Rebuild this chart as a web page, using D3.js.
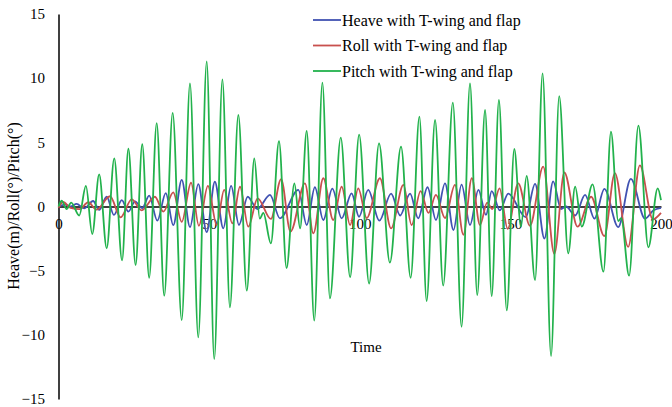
<!DOCTYPE html>
<html>
<head>
<meta charset="utf-8">
<script src="https://cdn.jsdelivr.net/npm/d3@7"></script>
<style>
  body { margin: 0; background: #fff; }
  text { font-family: "Liberation Serif", "Times New Roman", serif; fill: #000; }
</style>
</head>
<body>
<div id="chart"></div>
<script>
  // values: turning points (time, value) of each record
  var heaveTime = [0, 2.2, 4, 6, 8.5, 11.5, 13.5, 16.0, 18.4, 21.0, 23.2, 25.4, 27.8, 30.1, 32.8, 35.6, 38.1, 40.9, 43.65, 46.4,
    49.2, 51.9, 54.7, 57.3, 59.9, 62.8, 66.0, 70.2, 73.5, 79.6, 82.4, 85.1, 87.9, 90.9, 94.0, 97.3,
    99.75, 102.8, 106.5, 110.4, 113.4, 116.7, 119.4, 122.5, 125.3, 128.3, 131.1, 133.8, 136.6, 139.4, 141.9, 143.8, 146.5,
    149.3, 155.1, 158.2, 161.3, 164.2, 166.8, 168.5, 171.5, 174.8, 177.9, 181.2, 185.8, 190.0, 194.7, 197.5, 200];
  var heave = [0, 0.15, 0.0, 0.2, -0.15, 0.43, -0.27, 0.76, -0.66, 0.5, -0.4, 0.4, -0.13, 0.85, -1.1, 1.05, -1.45, 2.07, -1.6, 1.75,
    -2.0, 1.93, -1.7, 1.6, -1.44, 0.76, -0.2, 0.9, -0.92, 1.29, -1.44, 1.5, -1.05, 1.4, -0.92, 1.03,
    -0.8, 1.29, -1.1, 1.0, -0.7, 1.0, -0.92, 1.5, -1.05, 1.8, -1.83, 1.7, -1.44, 1.3, -0.66, 1.2, -0.3,
    1.0, -0.83, 1.77, -2.5, 1.96, -0.2, 0.0, -0.7, 0.9, -0.95, 1.38, -1.6, 2.15, -0.95, -0.3, -0.1];

  var rollTime = [0, 1.5, 4, 7, 9.9, 12.6, 17.1, 20.6, 24.3, 27.6, 32.0, 34.8, 38.1, 40.9, 44.0, 46.6,
    49.6, 52.5, 55.0, 57.7, 60.25, 63.0, 66.1, 70.5, 73.9, 77.0, 81.8, 84.6, 87.9, 91.2, 94.0, 96.8,
    99.5, 102.3, 106.7, 110.4, 114.5, 117.2, 120.2, 122.8, 125.3, 128.3, 131.6, 134.4, 137.2, 139.9, 142.3, 144.0, 146.4,
    149.1, 152.6, 156.5, 160.9, 164.6, 167.9, 172.3, 176.8, 181.2, 184.7, 189.1, 193.0, 197.3, 200];
  var roll = [-0.1, 0.35, -0.1, -0.2, 0.33, -0.25, 0.8, -0.85, 0.55, -0.3, 0.76, -0.4, 1.1, -1.2, 1.85, -1.5,
    1.6, -1.44, 1.29, -1.31, 1.54, -1.57, 0.64, -0.97, 2.14, -1.96, 1.8, -2.09, 2.2, -1.05, 1.54, -1.44,
    1.42, -0.9, 2.2, -1.7, 1.68, -1.44, 1.2, -0.5, 0.9, -0.9, 1.68, -2.2, 2.2, -1.44, 0.3, -0.2, 1.42,
    -1.75, 1.8, -1.5, 3.1, -3.7, 2.65, -1.57, 0.76, -2.3, 2.6, -3.15, 3.2, -1.0, -0.5];

  var pitchTime = [0, 1.05, 2.7, 4.2, 6.9, 9.1, 11.2, 13.5, 16.0, 18.5, 21.1, 23.2, 25.6, 27.8, 30.1, 32.6, 35.1, 37.9, 40.9, 43.65, 46.4,
    49.2, 51.7, 54.4, 56.9, 59.7, 62.5, 65.0, 66.8, 68.0, 70.5, 73.2, 75.7, 78.3, 80.2, 82.4, 84.9, 87.6, 90.1, 93.7, 96.8,
    99.8, 103.1, 106.4, 110.0, 113.7, 116.9, 119.8, 122.2, 125.0, 127.7, 130.9, 133.8, 136.6, 139.0, 141.6, 143.8, 146.2, 148.8,
    151.3, 153.5, 155.4, 158.2, 160.7, 163.5, 166.2, 169.2, 171.5, 173.7, 177.3, 180.9, 183.4, 185.8, 186.8, 189.4, 192.5, 195.8, 198.9, 200];
  var pitch = [0, 0.45, -0.2, 0.3, -0.7, 1.6, -2.15, 2.5, -3.26, 3.75, -4.2, 4.5, -4.56, 4.85, -5.55, 6.5, -6.95, 7.3, -8.85, 9.6, -10.2,
    11.3, -11.9, 9.9, -7.86, 7.13, -6.56, 3.75, -0.95, -0.5, -2.87, 5.1, -4.8, 1.8, -1.7, 5.9, -8.9, 9.65, -7.16, 5.36, -5.5,
    5.6, -6.0, 4.92, -4.38, 4.66, -5.55, 7.0, -7.37, 6.74, -6.17, 8.1, -9.37, 9.6, -6.9, 7.52, -6.98, 8.3, -8.1,
    4.48, -1.57, 2.38, -5.73, 10.38, -11.65, 8.6, -3.65, 1.55, -1.57, 1.73, -5.08, 5.83, -1.13, -0.9, -5.39, 6.3, -3.18, 1.42, 0.5];

  var seriesNames = ["Heave with T-wing and flap", "Roll with T-wing and flap", "Pitch with T-wing and flap"];
  var seriesColors = ["#4052b2", "#c8504e", "#22b24c"];
  var xTicks = [0, 50, 100, 150, 200];
  var yTicks = [-15, -10, -5, 0, 5, 10, 15];

  var width = 672, height = 407;

  var svg = d3.select("#chart").append("svg")
    .attr("width", width)
    .attr("height", height);

  var x = d3.scaleLinear().domain([0, 200]).range([58.5, 661]);
  var y = d3.scaleLinear().domain([-15, 15]).range([399, 14]);

  // y axis: plain line, labels on the left
  var yAxis = svg.append("g")
    .attr("transform", "translate(" + x(0) + ",0)")
    .call(d3.axisLeft(y).tickValues(yTicks).tickSize(0).tickPadding(13.5).tickFormat(d3.format("d")));
  yAxis.select(".domain").attr("stroke", "#000").attr("stroke-width", 1.5);
  yAxis.selectAll("text").style("font-size", "15px")
    .style("font-family", "'Liberation Serif', serif");

  // x axis crosses at zero
  var xAxis = svg.append("g")
    .attr("transform", "translate(0," + y(0) + ")")
    .call(d3.axisBottom(x).tickValues(xTicks).tickSize(0).tickPadding(12));
  xAxis.select(".domain").attr("stroke", "#000").attr("stroke-width", 1.5);
  xAxis.selectAll("text").style("font-size", "15px")
    .style("font-family", "'Liberation Serif', serif");

  var series = [
    { name: seriesNames[0], color: seriesColors[0], t: heaveTime, v: heave },
    { name: seriesNames[1], color: seriesColors[1], t: rollTime, v: roll },
    { name: seriesNames[2], color: seriesColors[2], t: pitchTime, v: pitch }
  ];

  var line = d3.line()
    .x(function(d) { return x(d[0]); })
    .y(function(d) { return y(d[1]); })
    .curve(d3.curveMonotoneX);

  series.forEach(function(s) {
    svg.append("path")
      .datum(d3.zip(s.t, s.v))
      .attr("fill", "none")
      .attr("stroke", s.color)
      .attr("stroke-width", 1.8)
      .attr("stroke-linejoin", "round")
      .attr("d", line);
  });

  // axis titles
  svg.append("text")
    .attr("x", 366)
    .attr("y", 352)
    .attr("text-anchor", "middle")
    .attr("font-size", "15px")
    .text("Time");

  svg.append("text")
    .attr("transform", "translate(19,206) rotate(-90)")
    .attr("text-anchor", "middle")
    .attr("font-size", "16px")
    .text("Heave(m)/Roll(°)/Pitch(°)");

  // legend
  var legend = svg.append("g").attr("transform", "translate(313,20)");
  series.forEach(function(s, i) {
    var row = legend.append("g").attr("transform", "translate(0," + (i * 25.5) + ")");
    row.append("line")
      .attr("x1", 0).attr("x2", 28)
      .attr("stroke", s.color)
      .attr("stroke-width", 1.8);
    row.append("text")
      .attr("x", 29)
      .attr("y", 5.5)
      .attr("font-size", "16px")
      .text(s.name);
  });
</script>
</body>
</html>
